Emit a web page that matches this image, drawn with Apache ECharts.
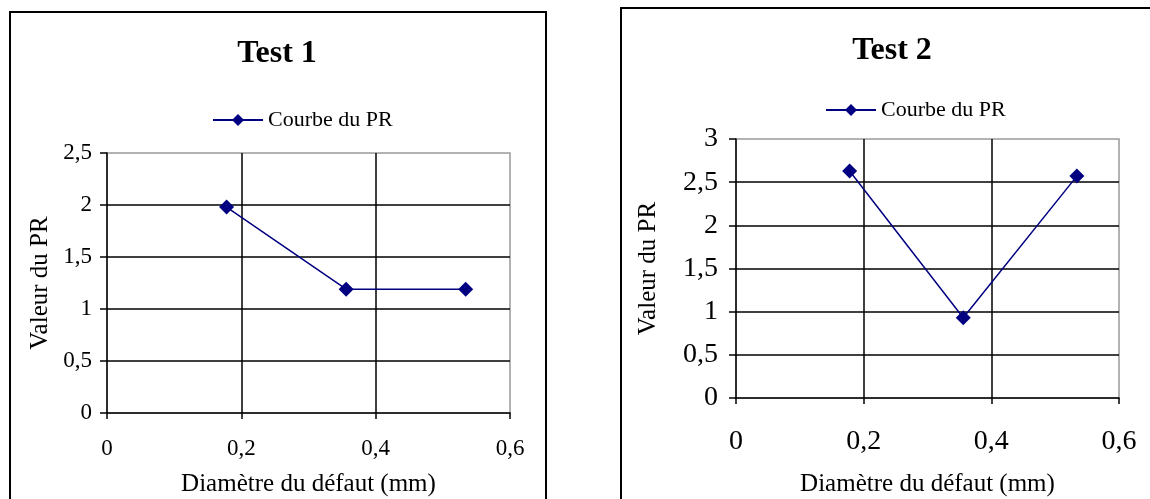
<!DOCTYPE html>
<html><head><meta charset="utf-8">
<script src="https://cdn.jsdelivr.net/npm/echarts@6/dist/echarts.min.js"></script>
<style>html,body{margin:0;padding:0;background:#fff}#c{width:1150px;height:499px}</style>
</head><body><div id="c"></div>
<script>
const titles = ['Test 1', 'Test 2'];
const seriesName = 'Courbe du PR';
const xAxisName = 'Diamètre du défaut (mm)';
const yAxisName = 'Valeur du PR';
const diam1 = [0.178, 0.356, 0.534];
const pr1 = [1.98, 1.19, 1.19];
const diam2 = [0.178, 0.356, 0.534];
const pr2 = [2.63, 0.93, 2.57];
const xTicks = [0, 0.6, 0.2];      // min, max, interval
const yTicks1 = [0, 2.5, 0.5];
const yTicks2 = [0, 3, 0.5];

const FONT = "'Liberation Serif','Times New Roman',serif";
const NAVY = '#000080';
const fmt = v => (+(+v).toFixed(2)).toString().replace('.', ',');

function xAxis(gi, cfg) {
  return {
    gridIndex: gi, type: 'value', min: xTicks[0], max: xTicks[1], interval: xTicks[2],
    name: xAxisName, nameLocation: 'middle', nameGap: cfg.nameGap,
    nameTextStyle: {fontFamily: FONT, fontSize: 25, color: '#000'},
    axisLine: {show: true, onZero: false, lineStyle: {color: '#000', width: 1.5}},
    axisTick: {show: true, length: 6, lineStyle: {color: '#000', width: 1.5}},
    axisLabel: {formatter: fmt, fontFamily: FONT, fontSize: cfg.labelSize, color: '#000', margin: cfg.labelMargin},
    splitLine: {show: true, showMinLine: false, showMaxLine: false, lineStyle: {color: '#000', width: 1.5}}
  };
}
function yAxis(gi, ticks, cfg) {
  return {
    gridIndex: gi, type: 'value', min: ticks[0], max: ticks[1], interval: ticks[2],
    name: yAxisName, nameLocation: 'middle', nameGap: cfg.nameGap,
    nameTextStyle: {fontFamily: FONT, fontSize: 25, color: '#000'},
    axisLine: {show: true, onZero: false, lineStyle: {color: '#000', width: 1.5}},
    axisTick: {show: true, length: 7, lineStyle: {color: '#000', width: 1.5}},
    axisLabel: {formatter: fmt, fontFamily: FONT, fontSize: cfg.labelSize, color: '#000', margin: cfg.labelMargin},
    splitLine: {show: true, showMinLine: false, showMaxLine: false, lineStyle: {color: '#000', width: 1.5}}
  };
}
function line(i, xs, ys) {
  return {
    name: seriesName, type: 'line', xAxisIndex: i, yAxisIndex: i,
    data: xs.map((x, k) => [x, ys[k]]),
    symbol: 'diamond', symbolSize: 15,
    lineStyle: {color: NAVY, width: 1.5}, itemStyle: {color: NAVY},
    animation: false
  };
}
const chart = echarts.init(document.getElementById('c'), null, {renderer: 'canvas'});
chart.setOption({
  backgroundColor: '#fff',
  animation: false,
  title: [
    {text: titles[0], left: 277, top: 38, padding: 0, textAlign: 'center', textStyle: {fontFamily: FONT, fontSize: 32, fontWeight: 'bold', color: '#000'}},
    {text: titles[1], left: 892, top: 35, padding: 0, textAlign: 'center', textStyle: {fontFamily: FONT, fontSize: 32, fontWeight: 'bold', color: '#000'}}
  ],
  legend: [
    {data: [seriesName], left: 212, top: 109, padding: 0, itemGap: 0, itemWidth: 50, itemHeight: 15, textStyle: {fontFamily: FONT, fontSize: 22, color: '#000'}},
    {data: [seriesName], left: 825, top: 99, padding: 0, itemGap: 0, itemWidth: 50, itemHeight: 15, textStyle: {fontFamily: FONT, fontSize: 22, color: '#000'}}
  ],
  grid: [
    {left: 107, top: 153, width: 403, height: 260, show: true, borderColor: '#999', borderWidth: 1.5, containLabel: false, outerBoundsMode: 'none'},
    {left: 736, top: 139, width: 383, height: 259, show: true, borderColor: '#999', borderWidth: 1.5, containLabel: false, outerBoundsMode: 'none'}
  ],
  xAxis: [
    xAxis(0, {nameGap: 59, labelSize: 23, labelMargin: 24}),
    xAxis(1, {nameGap: 74, labelSize: 28, labelMargin: 30})
  ],
  yAxis: [
    yAxis(0, yTicks1, {nameGap: 54, labelSize: 23, labelMargin: 15}),
    yAxis(1, yTicks2, {nameGap: 75, labelSize: 28, labelMargin: 18})
  ],
  series: [line(0, diam1, pr1), line(1, diam2, pr2)],
  graphic: [
    {type: 'rect', shape: {x: 10, y: 12, width: 536, height: 520}, style: {fill: null, stroke: '#000', lineWidth: 2}, z: 100},
    {type: 'rect', shape: {x: 621, y: 8, width: 560, height: 520}, style: {fill: null, stroke: '#000', lineWidth: 2}, z: 100}
  ]
});
</script></body></html>
